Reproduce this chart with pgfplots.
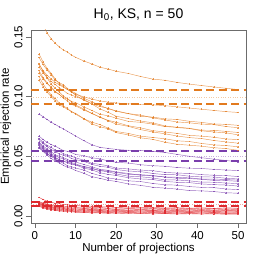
\documentclass[border=0pt]{standalone}
\usepackage{fontspec}
\setmainfont{Liberation Sans}
\usepackage{pgfplots}
\usepackage{pgfplotstable}
\pgfplotsset{compat=1.18}
\definecolor{oc}{RGB}{226,122,30}
\definecolor{pc}{RGB}{122,62,172}
\definecolor{rc}{RGB}{222,40,45}
\pgfplotstableread{
x O1 O2 O3 O4 O5 O6 O7 O8 O9 O10 P1 P2 P3 P4 P5 P6 P7 P8 P9 P10 R1 R2 R3 R4 R5 R6 R7 R8 R9 R10
1 .172 .127 .136 .133 .128 .125 .122 .120 .117 .114 .0856 .067 .065 .064 .062 .061 .060 .059 .058 .057 .0155 .012 .0115 .011 .0105 .010 .0095 .009 .0085 .008
2 .1603 .122 .1292 .1271 .1213 .1201 .1162 .115 .1108 .1084 .0832 .0641 .0618 .0607 .0587 .0576 .0565 .0553 .0541 .0543 .0137 .0108 .0102 .0097 .0092 .0087 .0082 .0077 .0072 .0067
3 .1535 .118 .1238 .1224 .1159 .1162 .1116 .111 .1058 .1039 .0809 .0618 .0592 .0581 .0561 .0549 .0537 .0523 .051 .0521 .0124 .0099 .0093 .0087 .0082 .0077 .0072 .0067 .0062 .0057
4 .1486 .115 .1196 .1183 .1105 .1128 .1075 .1082 .1015 .100 .0786 .0598 .0576 .0558 .0538 .0519 .0513 .0498 .0483 .0503 .0117 .0091 .0089 .0079 .0078 .0069 .0068 .0060 .0058 .0050
5 .1449 .112 .1149 .1139 .1072 .1104 .104 .1045 .0985 .0966 .0767 .0586 .0551 .0538 .0512 .0505 .0492 .0479 .0459 .0486 .0105 .0090 .0080 .0078 .0069 .0068 .0059 .0058 .0049 .0048
6 .1418 .110 .1108 .1118 .1039 .1074 .1019 .102 .0947 .0931 .0748 .0566 .0541 .0521 .0501 .0488 .0469 .0457 .0445 .0473 .0103 .0082 .0079 .0069 .0068 .0059 .0058 .0049 .0048 .0040
7 .1392 .108 .1088 .1101 .1005 .1054 .0988 .0993 .0922 .0916 .073 .0548 .0522 .0508 .0488 .0479 .046 .0442 .0424 .0457 .0095 .0083 .0072 .0070 .0061 .0060 .0051 .0050 .0041 .0040
8 .1375 .106 .1061 .107 .0985 .1027 .0965 .098 .0904 .0894 .071 .0542 .0509 .0501 .0475 .046 .0446 .0421 .0408 .0451 .0094 .0076 .0073 .0063 .0062 .0053 .0052 .0043 .0042 .0034
9 .1349 .104 .1041 .1047 .0958 .1015 .0935 .096 .0872 .0878 .069 .0531 .0502 .0482 .0456 .0447 .0432 .0412 .0398 .044 .0087 .0078 .0067 .0065 .0056 .0055 .0046 .0045 .0036 .0035
10 .1331 .102 .1013 .1029 .0931 .100 .0924 .0951 .0861 .0854 .067 .0516 .0487 .0472 .0452 .0437 .0428 .0401 .0381 .0427 .0089 .0072 .0069 .0059 .0058 .0049 .0048 .0039 .0038 .0030
12 .1301 .100 .0972 .0988 .0898 .0978 .0889 .0915 .0817 .0815 .0632 .0505 .0468 .0458 .0432 .0411 .0401 .0385 .0358 .0416 .0081 .0074 .0063 .0060 .0051 .0050 .0041 .0040 .0031 .0030
14 .1275 .098 .0939 .0958 .0858 .0941 .0862 .0885 .0772 .0787 .0597 .0487 .0442 .0432 .0412 .0396 .0386 .0357 .0329 .040 .0081 .0068 .0064 .0053 .0052 .0043 .0042 .0033 .0032 .0024
16 .1248 .0965 .0898 .0929 .0831 .0917 .0826 .0853 .0748 .0766 .0575 .0479 .0432 .0416 .0391 .0379 .0362 .0338 .0315 .0381 .0075 .0070 .0058 .0055 .0046 .0045 .0036 .0035 .0026 .0025
18 .1232 .0955 .087 .0898 .0798 .0904 .0802 .084 .0731 .0737 .0566 .0461 .042 .0408 .0382 .0370 .0348 .0318 .0299 .0376 .0077 .0065 .0061 .0050 .0049 .0040 .0039 .0030 .0029 .0021
20 .1214 .0948 .0836 .0882 .0771 .0878 .0786 .082 .0699 .0708 .0558 .045 .0401 .0389 .0369 .0352 .0339 .0309 .0289 .0365 .0071 .0067 .0056 .0053 .0044 .0043 .0034 .0033 .0024 .0023
23 .1195 .094 .0816 .0858 .0751 .0858 .0756 .0793 .0679 .0692 .055 .0443 .0394 .0376 .0356 .0333 .032 .0294 .0268 .0349 .0073 .0062 .0058 .0048 .0047 .0038 .0037 .0028 .0027 .0019
26 .117 .0935 .0796 .0846 .0724 .0836 .0739 .0785 .0655 .0669 .0548 .0429 .0384 .0371 .0341 .0328 .031 .0288 .0256 .0346 .0068 .0065 .0053 .0051 .0042 .0041 .0032 .0031 .0022 .0021
29 .1148 .0932 .0781 .0823 .0704 .0829 .0715 .077 .0642 .0658 .0541 .0421 .0379 .0356 .0336 .0318 .0305 .0272 .0240 .0338 .0071 .0060 .0057 .0046 .0045 .0036 .0035 .0026 .0025 .0017
32 .1138 .0925 .0755 .0805 .0689 .0814 .0704 .0749 .0618 .0647 .0532 .0416 .0365 .0346 .0326 .0302 .0289 .0261 .0233 .0326 .0066 .0064 .0052 .0049 .0040 .0039 .0030 .0029 .0020 .0019
35 .112 .0915 .0741 .0788 .067 .0809 .0692 .0745 .0601 .063 .0516 .0406 .0359 .0345 .0316 .0301 .0282 .0258 .0225 .0324 .0069 .0059 .0055 .0044 .0043 .0034 .0033 .0024 .0023 .0015
38 .1106 .0905 .0733 .0781 .0657 .0794 .0676 .0735 .0593 .0624 .050 .040 .0356 .0333 .0313 .0294 .0279 .0246 .0212 .0319 .0064 .0063 .0051 .0048 .0039 .0038 .0029 .0028 .0019 .0018
41 .1094 .0895 .0714 .077 .0649 .0785 .0669 .0719 .0585 .0608 .0488 .0398 .0346 .0327 .0307 .0283 .0268 .0239 .021 .0309 .0068 .0059 .0055 .0044 .0043 .0034 .0033 .0024 .0023 .0015
44 .1082 .0885 .0704 .0766 .0633 .0771 .066 .0718 .0572 .0596 .0476 .039 .0341 .0326 .0298 .0282 .0262 .0237 .0204 .0309 .0063 .0062 .0050 .0047 .0038 .0037 .0028 .0027 .0018 .0017
47 .1071 .0875 .0697 .075 .0621 .0768 .0646 .0709 .0565 .059 .0465 .0385 .0338 .0316 .0296 .0276 .0259 .0226 .0194 .0305 .0067 .0058 .0054 .0043 .0042 .0033 .0032 .0023 .0022 .0014
50 .106 .0868 .068 .074 .061 .076 .064 .070 .055 .058 .0453 .038 .033 .031 .029 .027 .025 .022 .019 .030 .0065 .006 .0052 .0045 .004 .0035 .003 .0025 .002 .0015
}\data
\pgfplotsset{
  curve/.style={color=#1, opacity=0.75, line width=0.45pt, mark=+, mark size=0.75pt, mark options={solid, line width=0.3pt}},
  refl/.style={color=#1, line width=2pt, dash pattern=on 8pt off 4.5pt},
  dotl/.style={color=#1!40, line width=0.4pt, dotted},
}
\begin{document}
\begin{tikzpicture}
\path[use as bounding box] (-31pt,-39pt) rectangle (231pt,223pt);
\begin{axis}[
  at={(0pt,0pt)}, anchor=south west, scale only axis,
  width=215pt, height=193pt,
  xmin=-0.96, xmax=51.96, ymin=-0.006, ymax=0.156,
  xtick={0,10,20,30,40,50},
  ytick={0,0.05,0.1,0.15}, yticklabels={0.00,0.05,0.10,0.15},
  tick align=outside, tick pos=left, major tick length=5pt,
  axis line style={gray!85!black, line width=0.6pt},
  tick style={gray!85!black, line width=0.6pt},
  /pgf/number format/assume math mode=true,
  every tick label/.append style={font=\fontsize{11.5}{13}\selectfont, text=black},
  yticklabel style={rotate=90, anchor=south},
  xlabel={Number of projections}, ylabel={Empirical rejection rate},
  every axis x label/.style={at={(axis description cs:0.5,0)}, yshift=-26pt, anchor=center, font=\fontsize{11.5}{13}\selectfont},
  every axis y label/.style={at={(axis description cs:0,0.5)}, xshift=-25pt, rotate=90, anchor=center, font=\fontsize{11.5}{13}\selectfont},
  title={H\textsubscript{0}, KS, n = 50},
  every axis title/.style={at={(axis description cs:0.5,1)}, yshift=15pt, anchor=center, font=\fontsize{14}{16}\selectfont},
]
\addplot[dotl=oc] coordinates {(-0.96,0.10) (51.96,0.10)};
\addplot[dotl=pc] coordinates {(-0.96,0.05) (51.96,0.05)};
\addplot[dotl=rc] coordinates {(-0.96,0.01) (51.96,0.01)};
\pgfplotsinvokeforeach{1,...,10}{\addplot[curve=rc] table[x=x,y=R#1]{\data};}
\pgfplotsinvokeforeach{1,...,10}{\addplot[curve=pc] table[x=x,y=P#1]{\data};}
\pgfplotsinvokeforeach{1,...,10}{\addplot[curve=oc] table[x=x,y=O#1]{\data};}
\addplot[refl=oc] coordinates {(-0.96,0.1059) (51.96,0.1059)};
\addplot[refl=oc] coordinates {(-0.96,0.0941) (51.96,0.0941)};
\addplot[refl=pc] coordinates {(-0.96,0.0543) (51.96,0.0543)};
\addplot[refl=pc] coordinates {(-0.96,0.0457) (51.96,0.0457)};
\addplot[refl=rc] coordinates {(-0.96,0.0120) (51.96,0.0120)};
\addplot[refl=rc] coordinates {(-0.96,0.0080) (51.96,0.0080)};
\end{axis}
\end{tikzpicture}
\end{document}
